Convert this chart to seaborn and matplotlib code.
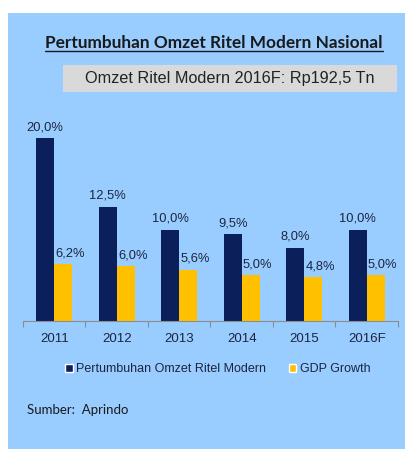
import pandas as pd
import matplotlib.pyplot as plt
import seaborn as sns
from matplotlib.patches import Rectangle

# Data
years = ["2011", "2012", "2013", "2014", "2015", "2016F"]
omzet = [20.0, 12.5, 10.0, 9.5, 8.0, 10.0]
gdp = [6.2, 6.0, 5.6, 5.0, 4.8, 5.0]
series_names = ["Pertumbuhan Omzet Ritel Modern", "GDP Growth"]

df = pd.DataFrame({
    "Tahun": years * 2,
    "Nilai": omzet + gdp,
    "Seri": [series_names[0]] * len(years) + [series_names[1]] * len(years),
})

navy = "#0B1F5B"
yellow = "#FFC000"
bg = "#99CCFF"
txt = "#1C2540"

sns.set_theme(style="white")
plt.rcParams["font.family"] = ["Liberation Sans", "DejaVu Sans"]

W, H = 406, 449
fig = plt.figure(figsize=(W / 100, H / 100), dpi=100)
fig.patch.set_facecolor("white")

# light blue panel
fig.patches.append(Rectangle((8 / W, 0), 1 - 8 / W, 1 - 13 / H,
                             transform=fig.transFigure, facecolor=bg,
                             edgecolor="none", zorder=-2))
# grey box behind the subtitle
fig.patches.append(Rectangle((63 / W, 1 - 92 / H), 334 / W, 27 / H,
                             transform=fig.transFigure, facecolor="#D9D9D9",
                             edgecolor="none", zorder=-1))

ax = fig.add_axes([23 / W, 1 - 321 / H, 375 / W, 192 / H])
ax.set_facecolor("none")

sns.barplot(data=df, x="Tahun", y="Nilai", hue="Seri", ax=ax,
            palette=[navy, yellow], width=0.58, saturation=1,
            linewidth=0, legend=False)

# value labels
for i, cont in enumerate(ax.containers):
    dx = 0 if i == 0 else 5
    for bar in cont:
        h = bar.get_height()
        ax.annotate(f"{h:.1f}%".replace(".", ","),
                    (bar.get_x() + bar.get_width() / 2, h),
                    xytext=(dx, 3.5), textcoords="offset points",
                    ha="center", va="bottom", fontsize=9.3, color=txt)

ax.set_ylim(0, 21)
ax.set_xlim(-0.5, len(years) - 0.5)
ax.set_xlabel("")
ax.set_ylabel("")
ax.set_yticks([])
for s in ["top", "right", "left"]:
    ax.spines[s].set_visible(False)
ax.spines["bottom"].set_color("#8C8C8C")
ax.spines["bottom"].set_linewidth(0.8)
ax.tick_params(axis="x", which="major", length=0, pad=9, labelsize=9.5,
               labelcolor=txt)
ax.set_xticks([i + 0.5 for i in range(-1, len(years))], minor=True)
ax.tick_params(axis="x", which="minor", length=4, color="#8C8C8C",
               width=0.8, direction="out", bottom=True)

# titles
fig.text(214 / W, 1 - 43 / H, "Pertumbuhan Omzet Ritel Modern Nasional",
         ha="center", va="center", fontsize=12.4, fontweight="bold",
         color="#1A1A1A", family=["Lato", "DejaVu Sans"])
fig.lines.append(plt.Line2D([45 / W, 383 / W], [1 - 51 / H, 1 - 51 / H],
                            transform=fig.transFigure, color="#1A1A1A",
                            linewidth=1))
fig.text(230 / W, 1 - 78 / H, "Omzet Ritel Modern 2016F: Rp192,5 Tn",
         ha="center", va="center", fontsize=11.7, color="#222222")

# legend
handles = [Rectangle((0, 0), 1, 1, facecolor=navy),
           Rectangle((0, 0), 1, 1, facecolor=yellow)]
fig.legend(handles, series_names, loc="center", ncol=2,
           bbox_to_anchor=(218 / W, 1 - 369 / H), frameon=False,
           fontsize=9, handlelength=0.6, handleheight=0.6,
           handletextpad=0.3, columnspacing=1.8, labelcolor=txt)

fig.text(27 / W, 1 - 410 / H, "Sumber:  Aprindo", ha="left", va="center",
         fontsize=9.5, color="#1A1A1A", family=["Lato", "DejaVu Sans"])

fig.savefig("out.png", dpi=100)
